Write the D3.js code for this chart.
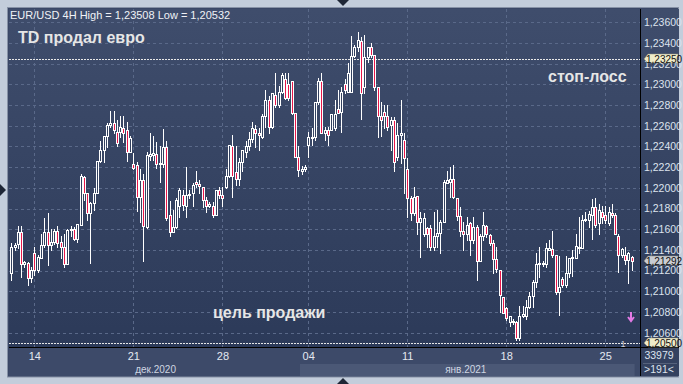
<!DOCTYPE html>
<html>
<head>
<meta charset="utf-8">
<script src="https://cdn.jsdelivr.net/npm/d3@7"></script>
<style>
  body { margin: 0; background: #c3cddb; }
  svg { display: block; font-family: "Liberation Sans", Arial, sans-serif; }
</style>
</head>
<body>
<svg width="683" height="384"></svg>
<script>
// EUR/USD 4H candles
const open = [1.2118,1.2143,1.2146,1.2157,1.2126,1.2127,1.2113,
  1.2137,1.2121,1.2132,1.2145,1.2157,1.2145,1.2148,1.2158,1.2148,1.2143,1.2126,1.2159,1.2160,1.2151,1.2164,1.2210,1.2195,1.2176,1.2185,1.2195,1.2226,1.2237,1.2250,1.2261,1.2263,1.2254,1.2254,1.2258,1.2256,1.2235,
  1.2223,1.2222,1.2191,1.2208,1.2162,1.2231,1.2232,1.2233,1.2223,1.2223,1.2239,1.2174,1.2157,1.2162,1.2182,1.2193,1.2182,1.2193,1.2195,1.2206,1.2204,1.2201,1.2188,1.2182,1.2182,1.2174,1.2198,
  1.2193,1.2201,1.2211,1.2240,1.2215,1.2209,1.2225,1.2235,1.2240,1.2247,1.2257,1.2253,1.2249,1.2269,1.2285,1.2259,1.2290,1.2280,1.2293,1.2305,1.2300,1.2303,1.2272,1.2230,1.2216,1.2218,
  1.2241,1.2248,1.2249,1.2283,1.2303,1.2253,1.2256,1.2256,1.2258,1.2276,1.2273,1.2300,1.2293,1.2293,1.2327,1.2336,1.2342,1.2297,1.2326,1.2336,1.2328,1.2297,1.2269,1.2273,1.2269,1.2261,1.2266,1.2230,1.2251,1.2246,
  1.2218,1.2190,1.2176,1.2192,1.2167,1.2155,1.2161,1.2161,1.2143,1.2153,1.2156,1.2167,1.2205,1.2206,1.2209,1.2190,1.2173,1.2158,1.2155,1.2166,1.2150,1.2162,1.2129,1.2153,1.2163,1.2154,1.2147,1.2131,1.2121,1.2094,
  1.2084,1.2070,1.2070,1.2070,1.2055,1.2076,1.2076,1.2085,1.2095,1.2109,1.2126,1.2126,1.2126,1.2140,1.2141,1.2135,1.2099,1.2112,1.2106,1.2118,1.2132,1.2132,1.2142,1.2142,1.2169,1.2169,1.2174,1.2181,1.2166,1.2177,
  1.2174,1.2166,1.2176,1.2174,1.2153,1.2135,1.2135,1.2130,1.2133];
const high = [1.2147,1.2147,1.2163,1.2163,1.2129,1.2128,1.2123,
  1.2143,1.2135,1.2155,1.2171,1.2176,1.2160,1.2160,1.2163,1.2153,1.2155,1.2160,1.2163,1.2162,1.2165,1.2213,1.2211,1.2195,1.2186,1.2200,1.2226,1.2245,1.2250,1.2263,1.2274,1.2274,1.2266,1.2269,1.2269,1.2264,1.2250,
  1.2234,1.2225,1.2218,1.2213,1.2235,1.2253,1.2250,1.2244,1.2240,1.2257,1.2245,1.2187,1.2179,1.2190,1.2200,1.2198,1.2220,1.2198,1.2205,1.2216,1.2208,1.2201,1.2191,1.2186,1.2186,1.2198,1.2201,
  1.2201,1.2218,1.2241,1.2251,1.2240,1.2229,1.2237,1.2245,1.2254,1.2264,1.2261,1.2258,1.2271,1.2295,1.2289,1.2292,1.2311,1.2298,1.2311,1.2311,1.2311,1.2303,1.2272,1.2240,1.2221,1.2222,
  1.2254,1.2258,1.2283,1.2306,1.2311,1.2259,1.2259,1.2271,1.2285,1.2295,1.2297,1.2305,1.2321,1.2347,1.2338,1.2351,1.2346,1.2348,1.2336,1.2340,1.2328,1.2297,1.2283,1.2280,1.2280,1.2268,1.2268,1.2263,1.2285,1.2253,
  1.2229,1.2192,1.2201,1.2192,1.2177,1.2176,1.2162,1.2164,1.2177,1.2179,1.2169,1.2208,1.2216,1.2220,1.2222,1.2190,1.2181,1.2167,1.2172,1.2167,1.2172,1.2164,1.2155,1.2177,1.2164,1.2155,1.2150,1.2143,1.2121,1.2094,
  1.2085,1.2076,1.2073,1.2071,1.2086,1.2086,1.2092,1.2099,1.2111,1.2137,1.2143,1.2129,1.2147,1.2150,1.2158,1.2135,1.2134,1.2114,1.2134,1.2132,1.2140,1.2155,1.2172,1.2174,1.2177,1.2178,1.2189,1.2190,1.2184,1.2182,
  1.2182,1.2181,1.2184,1.2176,1.2155,1.2142,1.2143,1.2138,1.2134];
const low = [1.2111,1.2140,1.2142,1.2114,1.2123,1.2106,1.2109,
  1.2116,1.2119,1.2132,1.2143,1.2125,1.2140,1.2146,1.2143,1.2132,1.2123,1.2126,1.2153,1.2150,1.2148,1.2164,1.2188,1.2169,1.2127,1.2179,1.2195,1.2225,1.2225,1.2239,1.2259,1.2253,1.2240,1.2249,1.2244,1.2226,1.2235,
  1.2218,1.2178,1.2167,1.2129,1.2161,1.2227,1.2227,1.2219,1.2206,1.2220,1.2169,1.2153,1.2157,1.2161,1.2172,1.2179,1.2172,1.2190,1.2182,1.2201,1.2195,1.2181,1.2177,1.2181,1.2172,1.2174,1.2190,
  1.2182,1.2200,1.2210,1.2191,1.2203,1.2203,1.2216,1.2230,1.2237,1.2244,1.2239,1.2237,1.2248,1.2259,1.2253,1.2258,1.2278,1.2278,1.2292,1.2286,1.2285,1.2271,1.2230,1.2211,1.2213,1.2216,
  1.2230,1.2241,1.2246,1.2281,1.2253,1.2246,1.2241,1.2256,1.2256,1.2272,1.2254,1.2292,1.2293,1.2293,1.2326,1.2332,1.2267,1.2292,1.2322,1.2326,1.2295,1.2249,1.2250,1.2258,1.2256,1.2237,1.2216,1.2227,1.2224,1.2195,
  1.2172,1.2169,1.2174,1.2155,1.2133,1.2153,1.2143,1.2140,1.2140,1.2143,1.2137,1.2167,1.2205,1.2191,1.2190,1.2169,1.2153,1.2140,1.2150,1.2135,1.2147,1.2111,1.2129,1.2150,1.2152,1.2145,1.2118,1.2119,1.2080,1.2079,
  1.2072,1.2066,1.2068,1.2053,1.2053,1.2075,1.2073,1.2084,1.2085,1.2104,1.2114,1.2124,1.2123,1.2140,1.2133,1.2097,1.2077,1.2104,1.2104,1.2114,1.2115,1.2132,1.2137,1.2142,1.2168,1.2162,1.2151,1.2162,1.2155,1.2166,
  1.2166,1.2164,1.2172,1.2155,1.2119,1.2133,1.2126,1.2108,1.2121];
const close = [1.2143,1.2145,1.2157,1.2126,1.2128,1.2113,1.2121,
  1.2121,1.2133,1.2145,1.2157,1.2145,1.2148,1.2158,1.2147,1.2143,1.2126,1.2159,1.2160,1.2151,1.2165,1.2211,1.2195,1.2176,1.2185,1.2195,1.2226,1.2237,1.2250,1.2261,1.2263,1.2256,1.2243,1.2259,1.2253,1.2235,1.2248,
  1.2219,1.2191,1.2208,1.2163,1.2232,1.2233,1.2234,1.2223,1.2224,1.2239,1.2171,1.2157,1.2162,1.2188,1.2198,1.2183,1.2193,1.2194,1.2203,1.2204,1.2202,1.2188,1.2182,1.2184,1.2174,1.2198,1.2193,
  1.2190,1.2211,1.2241,1.2211,1.2209,1.2225,1.2237,1.2240,1.2247,1.2258,1.2253,1.2251,1.2269,1.2285,1.2259,1.2292,1.2280,1.2293,1.2309,1.2287,1.2287,1.2272,1.2230,1.2217,1.2218,1.2220,
  1.2249,1.2249,1.2283,1.2303,1.2253,1.2256,1.2251,1.2271,1.2271,1.2272,1.2293,1.2295,1.2311,1.2327,1.2336,1.2343,1.2292,1.2326,1.2336,1.2328,1.2297,1.2269,1.2266,1.2269,1.2259,1.2266,1.2225,1.2251,1.2253,1.2229,
  1.2190,1.2176,1.2191,1.2167,1.2171,1.2171,1.2155,1.2143,1.2153,1.2156,1.2167,1.2206,1.2208,1.2209,1.2191,1.2173,1.2158,1.2155,1.2164,1.2150,1.2162,1.2129,1.2153,1.2164,1.2155,1.2147,1.2131,1.2122,1.2096,1.2079,
  1.2074,1.2076,1.2071,1.2055,1.2076,1.2078,1.2085,1.2095,1.2109,1.2126,1.2127,1.2127,1.2142,1.2142,1.2135,1.2099,1.2104,1.2106,1.2118,1.2132,1.2133,1.2144,1.2143,1.2169,1.2170,1.2175,1.2181,1.2164,1.2179,1.2172,
  1.2169,1.2177,1.2174,1.2155,1.2135,1.2141,1.2130,1.2137,1.21292];

// axis ticks and labels
const priceTicks = [1.206,1.208,1.210,1.212,1.214,1.216,1.218,1.220,1.222,1.224,1.226,1.228,1.230,1.232,1.234,1.236];
const dayIdx = [7, 37, 64, 90, 120, 150, 180];
const dayLabels = ["14", "21", "28", "04", "11", "18", "25"];
const monthLabels = ["дек.2020", "янв.2021"];
const monthStart = [0, 87.5]; // bar index where each month begins
const stopLoss = 1.2325, target = 1.2050;

const svg = d3.select("svg");
const L = 9, R = 640, T = 9, B = 347;  // plot box
const lastPrice = close[close.length - 1];
const fmt = v => v.toFixed(5).replace(".", ",");

const x = d3.scaleLinear().domain([0, open.length - 1]).range([11.2, 631.6]);
const y = d3.scaleLinear().domain([stopLoss, target]).range([58.5, 343]);
const px = i => Math.round(x(i));

// gradients
const defs = svg.append("defs");
const g1 = defs.append("linearGradient").attr("id", "bg").attr("x1", 0).attr("x2", 0).attr("y1", 0).attr("y2", 1);
g1.append("stop").attr("offset", 0).attr("stop-color", "#3f4d6c");
g1.append("stop").attr("offset", 1).attr("stop-color", "#2c3a59");
defs.append("clipPath").attr("id", "clip").append("rect")
  .attr("x", L).attr("y", T).attr("width", R - L).attr("height", B - T);

// frame
svg.append("rect").attr("x", 7.5).attr("y", 7.5).attr("width", 671).attr("height", 369.5)
  .attr("fill", "#3a4766").attr("stroke", "#8792a6");
svg.append("rect").attr("x", L).attr("y", T).attr("width", 670).attr("height", B - T)
  .attr("fill", "url(#bg)");

// bottom date strip
svg.append("rect").attr("x", L).attr("y", B + 1).attr("width", R - L).attr("height", 28).attr("fill", "#3d4a69");
svg.append("rect").attr("x", x(monthStart[1])).attr("y", B + 17).attr("width", x(open.length - 1) + 3 - x(monthStart[1]))
  .attr("height", 12).attr("fill", "#4b5876");
svg.append("rect").attr("x", R + 1).attr("y", B + 1).attr("width", 38).attr("height", 28).attr("fill", "#34415f");

// grid
const grid = svg.append("g").attr("clip-path", "url(#clip)");
grid.selectAll(".hg").data(priceTicks).join("line")
  .attr("x1", L).attr("x2", R).attr("y1", d => Math.round(y(d)) + 0.5).attr("y2", d => Math.round(y(d)) + 0.5)
  .attr("stroke", "#5a6989").attr("stroke-dasharray", "3,3");
grid.selectAll(".vg").data(dayIdx).join("line")
  .attr("x1", d => px(d) + 0.5).attr("x2", d => px(d) + 0.5).attr("y1", T).attr("y2", B)
  .attr("stroke", "#5a6989").attr("stroke-dasharray", "3,3");

// level lines
grid.selectAll(".lvl").data([stopLoss, target]).join("line")
  .attr("x1", L).attr("x2", R).attr("y1", d => Math.round(y(d)) + 0.5).attr("y2", d => Math.round(y(d)) + 0.5)
  .attr("stroke", "#e8e8e8").attr("stroke-dasharray", "2,1");

// candles
const candles = grid.append("g").selectAll("g").data(d3.range(open.length)).join("g");
candles.append("line")
  .attr("x1", i => px(i) + 0.5).attr("x2", i => px(i) + 0.5)
  .attr("y1", i => Math.round(y(high[i]))).attr("y2", i => Math.round(y(low[i])) + 1)
  .attr("stroke", "#ffffff");
candles.each(function (i) {
  const top = Math.round(y(Math.max(open[i], close[i])));
  const bot = Math.round(y(Math.min(open[i], close[i])));
  const g = d3.select(this);
  if (bot - top < 1) {
    g.append("line").attr("x1", px(i) - 1).attr("x2", px(i) + 2)
      .attr("y1", top + 0.5).attr("y2", top + 0.5).attr("stroke", "#ffffff");
  } else {
    g.append("rect").attr("x", px(i) - 0.5).attr("y", top + 0.5).attr("width", 2).attr("height", bot - top)
      .attr("fill", close[i] < open[i] ? "#e8174a" : "#33415f").attr("stroke", "#ffffff");
  }
});

// separators
svg.append("line").attr("x1", R + 0.5).attr("x2", R + 0.5).attr("y1", T).attr("y2", B + 29).attr("stroke", "#000");
svg.append("line").attr("x1", L).attr("x2", 679).attr("y1", B + 0.5).attr("y2", B + 0.5).attr("stroke", "#000");
svg.append("line").attr("x1", R + 3).attr("x2", 677).attr("y1", B + 16.5).attr("y2", B + 16.5).attr("stroke", "#56627c");

// right price axis; the stop-loss tag is drawn over the 1,23200 label, as in the original
const ya = svg.append("g").attr("transform", `translate(${R + 2},0)`)
  .call(d3.axisRight(y).tickValues(priceTicks).tickSize(0).tickPadding(2).tickFormat(fmt));
ya.select(".domain").remove();
ya.selectAll("text").attr("fill", "#dde3ee").attr("font-size", 10.5).attr("font-family", "Liberation Sans, Arial");

// price tags
function tag(v, bg) {
  const yy = Math.round(y(v));
  const g = svg.append("g");
  g.append("path").attr("d", `M${R + 4},${yy} L${R + 8},${yy - 5} H678 V${yy + 4} H${R + 8} Z`)
    .attr("fill", bg).attr("stroke", "#8a8a7a").attr("stroke-width", 0.5);
  g.append("text").attr("x", R + 6).attr("y", yy + 3.5).text(fmt(v))
    .attr("font-size", 10).attr("fill", "#111");
}
tag(stopLoss, "#efecc9");
tag(lastPrice, "#c9ccd2");
tag(target, "#efecc9");

// bottom date axis
const xa = svg.append("g").attr("transform", `translate(0,${B})`)
  .call(d3.axisBottom(x).tickValues(dayIdx).tickSize(0).tickPadding(5).tickFormat((d, i) => dayLabels[i]));
xa.select(".domain").remove();
xa.selectAll("text").attr("fill", "#e4e8f0").attr("font-size", 11).attr("font-family", "Liberation Sans, Arial");

const monthEnd = [monthStart[1], open.length - 1];
svg.selectAll(".month").data(monthLabels).join("text")
  .attr("x", (d, i) => (Math.max(x(monthStart[i]), L) + x(monthEnd[i])) / 2)
  .attr("y", B + 26).attr("text-anchor", "middle")
  .attr("font-size", 10).attr("fill", "#cfd6e2").text(d => d);

svg.append("text").attr("x", 659).attr("y", B + 12).attr("text-anchor", "middle")
  .attr("font-size", 10.5).attr("fill", "#dde3ee").text("33979");
svg.append("text").attr("x", 659).attr("y", B + 26).attr("text-anchor", "middle")
  .attr("font-size", 10.5).attr("fill", "#dde3ee").text(">191<");

// header and annotations
svg.append("text").attr("x", 10).attr("y", 19).attr("font-size", 11).attr("fill", "#f0f2f6")
  .text("EUR/USD 4H  High = 1,23508 Low = 1,20532");
const note = (t, xx, yy) => svg.append("text").attr("x", xx).attr("y", yy)
  .attr("font-size", 16).attr("font-weight", "bold").attr("fill", "#e6e6e6").text(t);
note("TD продал евро", 18, 43);
note("стоп-лосс", 548, 82);
note("цель продажи", 213, 318);

// small marks near the target line
svg.append("text").attr("x", 623).attr("y", 347).attr("font-size", 9).attr("fill", "#c8ccd6")
  .attr("text-anchor", "middle").text("1");
svg.append("path").attr("d", "M631,312 V320 M628,317 L631,321 L634,317")
  .attr("stroke", "#e37ae6").attr("stroke-width", 2).attr("fill", "none");

// scroll arrows
svg.append("path").attr("d", "M337,0 H349 L343,6 Z").attr("fill", "#1e2636");
svg.append("path").attr("d", "M337,384 H349 L343,378 Z").attr("fill", "#1e2636");
svg.append("path").attr("d", "M0,184 V196 L6,190 Z").attr("fill", "#1e2636");
</script>
</body>
</html>
